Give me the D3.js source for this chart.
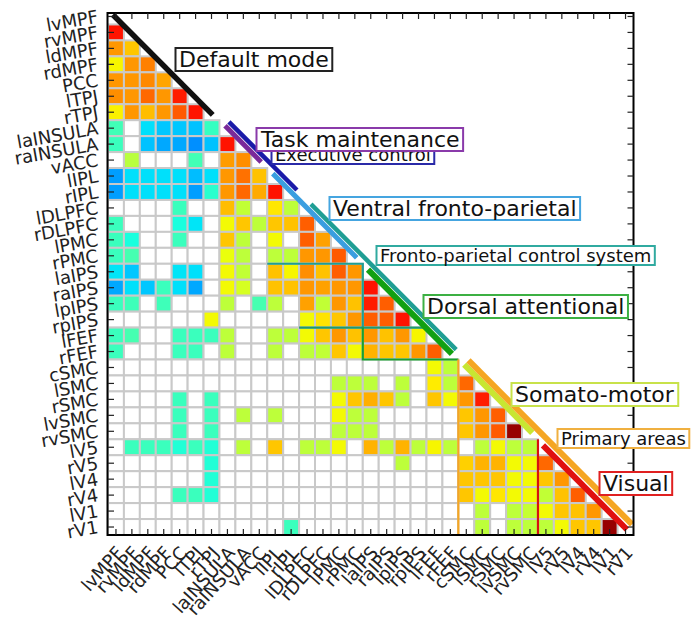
<!DOCTYPE html>
<html><head><meta charset="utf-8">
<script src="https://cdn.jsdelivr.net/npm/d3@7"></script>
<style>body{margin:0;background:#fff} svg{display:block} text{font-family:"DejaVu Sans",sans-serif}</style>
</head><body>
<svg id="c" width="691" height="622"></svg>
<script>
const _ = null;
const regions = ["lvMPF","rvMPF","ldMPF","rdMPF","PCC","lTPJ","rTPJ","laINSULA","raINSULA","vACC","lIPL","rIPL","lDLPFC","rDLPFC","lPMC","rPMC","laIPS","raIPS","lpIPS","rpIPS","lFEF","rFEF","cSMC","lSMC","rSMC","lvSMC","rvSMC","lV5","rV5","lV4","rV4","lV1","rV1"];

// lower-triangle correlation values (row r holds columns 0..r-1), null = not significant
const corr = [
 [],
 [0.78],
 [0.50,0.40],
 [0.30,0.50,0.55],
 [0.50,0.50,0.53,0.47],
 [0.52,0.50,0.60,0.50,0.76],
 [0.31,0.50,0.42,0.50,0.63,0.78],
 [-0.145,_,-0.31,-0.36,-0.36,-0.37,-0.17],
 [-0.16,_,-0.37,-0.42,-0.42,-0.47,-0.37,0.78],
 [_,0.15,_,_,_,-0.14,_,0.49,0.52],
 [-0.44,-0.31,-0.31,-0.31,-0.31,-0.38,-0.31,0.50,0.58,0.41],
 [-0.44,-0.31,-0.31,-0.31,-0.31,-0.44,-0.20,0.50,0.60,0.46,0.78],
 [_,_,_,_,-0.16,_,_,0.42,0.17,_,0.33,0.16],
 [-0.16,_,_,_,-0.24,-0.30,_,0.29,0.40,0.16,0.40,0.41,0.62],
 [-0.16,-0.24,_,_,-0.16,_,_,0.40,0.16,_,0.29,_,0.62,0.48],
 [-0.16,-0.13,_,_,_,_,_,0.27,0.16,_,0.16,0.16,0.50,0.50,0.63],
 [-0.30,-0.36,_,_,-0.30,-0.31,_,0.29,0.17,_,0.41,0.30,0.52,0.41,0.62,0.50],
 [-0.42,-0.31,-0.36,-0.16,-0.31,-0.42,_,0.29,0.22,_,0.41,0.41,0.50,0.48,0.50,0.50,0.78],
 [-0.16,-0.15,_,-0.15,_,_,_,0.16,_,-0.13,0.16,_,0.48,0.17,0.50,0.41,0.76,0.62],
 [_,_,_,_,_,_,0.29,_,_,_,_,_,0.29,0.34,0.40,0.50,0.62,0.62,0.78],
 [-0.16,-0.13,_,_,-0.16,-0.16,-0.16,0.16,_,_,0.16,0.16,0.29,0.40,0.50,0.41,0.50,0.41,0.50,0.30],
 [-0.16,_,_,_,-0.16,-0.16,_,0.16,_,_,0.16,_,0.16,0.17,0.40,0.29,0.44,0.40,0.40,0.50,0.62],
 [_,_,_,_,_,_,_,_,_,_,_,_,_,_,_,_,_,_,_,_,0.29,0.16],
 [_,_,_,_,_,_,_,_,_,_,_,_,_,_,0.16,0.16,0.16,_,0.16,_,0.32,0.16,0.60],
 [_,_,_,_,-0.16,_,-0.16,_,_,_,_,_,_,_,0.29,0.40,0.45,0.40,0.16,_,0.40,0.29,0.50,0.76],
 [_,_,_,_,-0.16,_,-0.16,_,0.16,_,0.16,_,_,_,0.29,0.16,0.16,_,_,_,_,_,0.40,0.50,0.62],
 [_,_,_,_,-0.16,_,-0.16,_,_,_,_,_,_,_,0.16,0.16,0.16,_,_,_,_,_,0.40,0.50,0.63,0.96],
 [_,-0.16,-0.16,-0.16,-0.22,-0.16,-0.22,_,0.16,_,0.40,_,0.16,0.16,0.29,_,0.44,0.16,0.44,0.16,0.30,0.16,_,0.16,0.29,0.16,0.16],
 [_,_,_,_,_,_,-0.22,_,_,_,_,_,_,_,_,_,_,_,0.16,_,_,_,0.38,0.44,0.44,0.29,0.29,0.60],
 [_,_,_,_,_,_,-0.22,_,_,_,_,_,_,_,_,_,_,_,_,_,_,_,0.40,0.40,0.40,0.29,0.29,0.40,0.50],
 [_,_,_,_,-0.16,-0.16,-0.22,_,_,_,_,_,_,_,_,_,_,_,_,_,_,_,0.40,0.29,0.33,0.29,0.29,0.17,0.41,0.62],
 [_,_,_,_,_,_,_,_,_,_,_,_,_,_,_,_,_,_,_,_,_,_,_,0.16,_,0.16,0.18,0.29,0.40,0.41,0.50],
 [_,_,_,_,_,_,_,_,_,_,_,-0.16,_,_,_,_,_,_,_,_,_,_,_,0.16,_,0.16,0.16,0.16,0.29,0.40,0.40,0.96]
];

const networks = ["Default mode","Executive control","Task maintenance","Ventral fronto-parietal","Fronto-parietal control system","Dorsal attentional","Somato-motor","Primary areas","Visual"];
const networkFirst = ["lvMPF","laINSULA","laINSULA","lIPL","lDLPFC","laIPS","cSMC","cSMC","lV5"];
const networkLast  = ["rTPJ","rIPL","vACC","rPMC","rFEF","rFEF","rvSMC","rV1","rV1"];

// ---------- styles / layout ----------
const netStyle = {
 "Default mode":                   {color:"#111111", box:"#222222", w:5.5, off:-1,  fs:22, tx:179, ty:67},
 "Executive control":              {color:"#1a1aa8", box:"#2a2aa8", w:4.5, off:5.5, fs:18, tx:275, ty:161},
 "Task maintenance":               {color:"#7a2a9a", box:"#8a3aaa", w:5,   off:0,   fs:22, tx:261, ty:147},
 "Ventral fronto-parietal":        {color:"#3a9ee0", box:"#45a5e0", w:5,   off:0,   fs:22, tx:333, ty:216},
 "Fronto-parietal control system": {color:"#1f9e94", box:"#30aaa0", w:4.5, off:5.5, fs:18, tx:380, ty:262},
 "Dorsal attentional":             {color:"#12a012", box:"#3cb043", w:6,   off:-0.5,fs:22, tx:427, ty:314},
 "Somato-motor":                   {color:"#c8e632", box:"#c8e24a", w:6,   off:0.5, fs:22, tx:515, ty:402},
 "Primary areas":                  {color:"#f5a623", box:"#f0b040", w:6,   off:6.5, fs:18, tx:561, ty:445},
 "Visual":                         {color:"#e01010", box:"#e02020", w:6,   off:-0.8,fs:22, tx:603, ty:491}
};

const svg = d3.select("#c");
const L = 108, R = 633.5, T = 13, B = 535;
const x = d3.scaleBand().domain(regions).range([L, R]);
const y = d3.scaleBand().domain(regions).range([8.5, B]);
const xs = x.step(), ys = y.step();

const jetR = d3.scaleLinear().domain([0,0.35,0.66,0.89,1]).range([0,0,1,1,0.5]).clamp(true);
const jetG = d3.scaleLinear().domain([0,0.125,0.375,0.64,0.91,1]).range([0,0,1,1,0,0]).clamp(true);
const jetB = d3.scaleLinear().domain([0,0.11,0.34,0.65,1]).range([0.5,1,1,0,0]).clamp(true);
const tScale = d3.scaleLinear().domain([-1,1]).range([0,1]).clamp(true);
const color = v => { const t = tScale(v); return d3.rgb(jetR(t)*255, jetG(t)*255, jetB(t)*255).formatHex(); };

const cells = [];
regions.forEach((rn, r) => {
  for (let c = 0; c < r; c++) {
    const v = (corr[r] && corr[r][c] !== undefined) ? corr[r][c] : null;
    cells.push({row: rn, col: regions[c], v});
  }
});

svg.append("g").selectAll("rect").data(cells).join("rect")
  .attr("x", d => x(d.col)).attr("y", d => y(d.row))
  .attr("width", xs).attr("height", ys)
  .attr("fill", d => d.v === null ? "#ffffff" : color(d.v))
  .attr("stroke", "#c9c9c9").attr("stroke-width", 2);

// block outline lines (thin)
const bx = name => x(name), by = name => y(name);
const blockLines = [
  {c:"#1f9e94", p:[[bx("lIPL"),by("laIPS")],[bx("laIPS"),by("laIPS")],[bx("laIPS"),by("lFEF")]]},
  {c:"#1f9a70", p:[[bx("lDLPFC"),by("lFEF")],[bx("lFEF"),by("lFEF")]]},
  {c:"#18a030", p:[[bx("laIPS"),by("lFEF")],[bx("laIPS"),by("cSMC")],[bx("cSMC"),by("cSMC")]]},
  {c:"#f5a623", p:[[bx("cSMC"),by("cSMC")],[bx("cSMC"),B]]},
  {c:"#d81010", p:[[bx("lV5"),by("lV5")],[bx("lV5"),B]]}
];
svg.append("g").selectAll("path").data(blockLines).join("path")
  .attr("d", d => d3.line()(d.p)).attr("fill","none")
  .attr("stroke", d => d.c).attr("stroke-width", 2.2);

// diagonal network markers
const diagPt = u => [x.range()[0] + u*xs, y.range()[0] + u*ys];
const diag = svg.append("g");
networks.forEach((n, i) => {
  const s = netStyle[n];
  const u0 = regions.indexOf(networkFirst[i]) + (n === "Fronto-parietal control system" ? 0.5 : 0.35);
  const u1 = regions.indexOf(networkLast[i]) + 1 - 0.38;
  const o = s.off / Math.SQRT2;
  const p0 = diagPt(u0), p1 = diagPt(u1);
  diag.append("line")
    .attr("x1", p0[0] + o).attr("y1", p0[1] - o)
    .attr("x2", p1[0] + o).attr("y2", p1[1] - o)
    .attr("stroke", s.color).attr("stroke-width", s.w);
});

// frame
svg.append("rect").attr("x", L - 0.5).attr("y", T).attr("width", R - L + 0.5).attr("height", B - T)
  .attr("fill","none").attr("stroke","#000").attr("stroke-width",2);

// ticks (inward, all sides)
const tk = svg.append("g").attr("stroke","#222").attr("stroke-width",1.2);
regions.forEach(n => {
  const cx = x(n) + xs/2, cy = y(n) + ys/2;
  tk.append("line").attr("x1",cx).attr("x2",cx).attr("y1",T).attr("y2",T+6);
  tk.append("line").attr("x1",cx).attr("x2",cx).attr("y1",B).attr("y2",B-6);
  tk.append("line").attr("y1",cy).attr("y2",cy).attr("x1",L).attr("x2",L+6);
  tk.append("line").attr("y1",cy).attr("y2",cy).attr("x1",R).attr("x2",R-6);
});

// tick labels
svg.append("g").selectAll("text").data(regions).join("text")
  .attr("transform", d => `translate(99,${y(d) + ys/2 + 6}) rotate(-10)`)
  .attr("text-anchor","end").attr("font-size",18).attr("fill","#222")
  .text(d => d);
svg.append("g").selectAll("text").data(regions).join("text")
  .attr("transform", d => `translate(${x(d) + xs/2 - 1},${B + 10}) rotate(-48)`)
  .attr("text-anchor","end").attr("dy","0.71em").attr("font-size",18).attr("fill","#222")
  .text(d => d);

// annotation boxes
const ann = svg.append("g");
networks.forEach(n => {
  const s = netStyle[n];
  const g = ann.append("g");
  const rect = g.append("rect");
  const t = g.append("text").attr("x", s.tx).attr("y", s.ty).attr("font-size", s.fs).attr("fill","#111").text(n);
  const bb = t.node().getBBox();
  rect.attr("x", bb.x - 3.5).attr("y", bb.y + 1).attr("width", bb.width + 7).attr("height", bb.height - 2)
    .attr("fill","#fff").attr("stroke", s.box).attr("stroke-width", 2);
});
</script>
</body></html>
